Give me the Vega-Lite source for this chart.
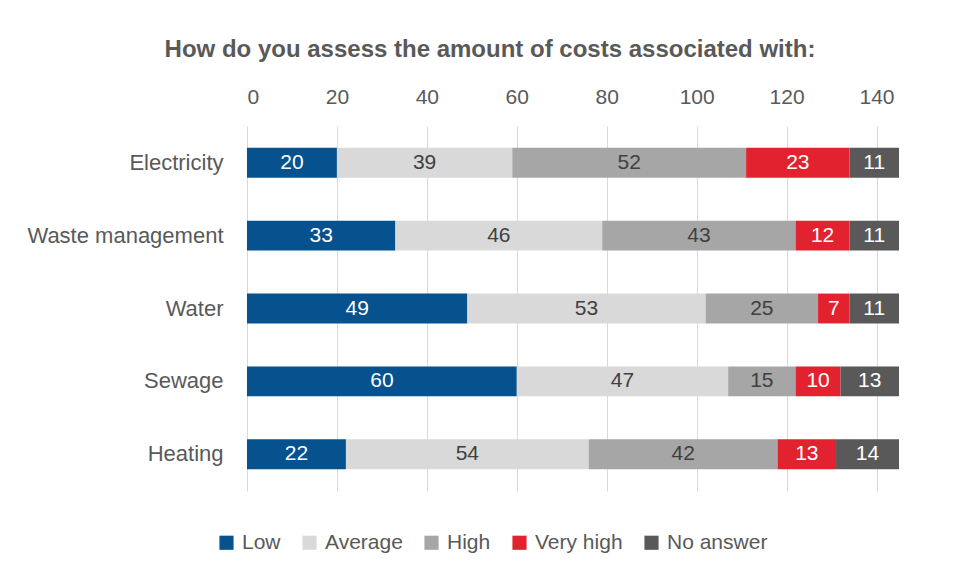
{
  "$schema": "https://vega.github.io/schema/vega-lite/v6.json",
  "autosize": {"type": "none"},
  "padding": {"left": 247, "top": 126, "right": 57, "bottom": 85},
  "width": 652,
  "height": 365,
  "background": "white",
  "config": {"view": {"stroke": null}},
  "title": {
    "text": "How do you assess the amount of costs associated with:",
    "font": "Liberation Sans",
    "fontSize": 24,
    "fontWeight": "bold",
    "color": "#595959",
    "anchor": "middle",
    "dx": -83,
    "offset": 24
  },
  "data": {
    "values": [
      {"cat": "Electricity", "resp": "Low", "order": 1, "v": 20},
      {"cat": "Electricity", "resp": "Average", "order": 2, "v": 39},
      {"cat": "Electricity", "resp": "High", "order": 3, "v": 52},
      {"cat": "Electricity", "resp": "Very high", "order": 4, "v": 23},
      {"cat": "Electricity", "resp": "No answer", "order": 5, "v": 11},
      {"cat": "Waste management", "resp": "Low", "order": 1, "v": 33},
      {"cat": "Waste management", "resp": "Average", "order": 2, "v": 46},
      {"cat": "Waste management", "resp": "High", "order": 3, "v": 43},
      {"cat": "Waste management", "resp": "Very high", "order": 4, "v": 12},
      {"cat": "Waste management", "resp": "No answer", "order": 5, "v": 11},
      {"cat": "Water", "resp": "Low", "order": 1, "v": 49},
      {"cat": "Water", "resp": "Average", "order": 2, "v": 53},
      {"cat": "Water", "resp": "High", "order": 3, "v": 25},
      {"cat": "Water", "resp": "Very high", "order": 4, "v": 7},
      {"cat": "Water", "resp": "No answer", "order": 5, "v": 11},
      {"cat": "Sewage", "resp": "Low", "order": 1, "v": 60},
      {"cat": "Sewage", "resp": "Average", "order": 2, "v": 47},
      {"cat": "Sewage", "resp": "High", "order": 3, "v": 15},
      {"cat": "Sewage", "resp": "Very high", "order": 4, "v": 10},
      {"cat": "Sewage", "resp": "No answer", "order": 5, "v": 13},
      {"cat": "Heating", "resp": "Low", "order": 1, "v": 22},
      {"cat": "Heating", "resp": "Average", "order": 2, "v": 54},
      {"cat": "Heating", "resp": "High", "order": 3, "v": 42},
      {"cat": "Heating", "resp": "Very high", "order": 4, "v": 13},
      {"cat": "Heating", "resp": "No answer", "order": 5, "v": 14}
    ]
  },
  "encoding": {
    "y": {
      "field": "cat",
      "type": "nominal",
      "sort": ["Electricity", "Waste management", "Water", "Sewage", "Heating"],
      "scale": {"paddingInner": 0.59, "paddingOuter": 0.3},
      "axis": {
        "title": null,
        "domain": false,
        "ticks": false,
        "labelFont": "Liberation Sans",
        "labelFontSize": 22,
        "labelColor": "#595959",
        "labelPadding": 24,
        "labelLimit": 0
      }
    },
    "x": {
      "field": "v",
      "type": "quantitative",
      "stack": "zero",
      "scale": {"domain": [0, 145], "nice": false},
      "axis": {
        "orient": "top",
        "title": null,
        "values": [0, 20, 40, 60, 80, 100, 120, 140],
        "domain": false,
        "ticks": false,
        "grid": true,
        "gridColor": "#D9D9D9",
        "gridWidth": 1,
        "labelFont": "Liberation Sans",
        "labelFontSize": 21,
        "labelColor": "#595959",
        "labelPadding": 19
      }
    },
    "order": {"field": "order", "type": "quantitative"}
  },
  "layer": [
    {
      "mark": {"type": "bar"},
      "encoding": {
        "color": {
          "field": "resp",
          "type": "nominal",
          "sort": ["Low", "Average", "High", "Very high", "No answer"],
          "scale": {
            "domain": ["Low", "Average", "High", "Very high", "No answer"],
            "range": ["#05528F", "#D9D9D9", "#A6A6A6", "#E2222F", "#595959"]
          },
          "legend": {
            "title": null,
            "orient": "none",
            "direction": "horizontal",
            "legendX": -31,
            "legendY": 406,
            "symbolType": "square",
            "symbolSize": 200,
            "symbolStrokeWidth": 0,
            "labelFont": "Liberation Sans",
            "labelFontSize": 21,
            "labelColor": "#595959",
            "labelOffset": 5,
            "columnPadding": 18
          }
        }
      }
    },
    {
      "mark": {"type": "text", "font": "Liberation Sans", "fontSize": 21, "baseline": "middle", "align": "center"},
      "encoding": {
        "x": {"field": "v", "type": "quantitative", "stack": "zero", "bandPosition": 0.5},
        "text": {"field": "v", "type": "quantitative"},
        "color": {
          "condition": {"test": "datum.resp === 'Average' || datum.resp === 'High'", "value": "#404040"},
          "value": "white"
        }
      }
    }
  ]
}
